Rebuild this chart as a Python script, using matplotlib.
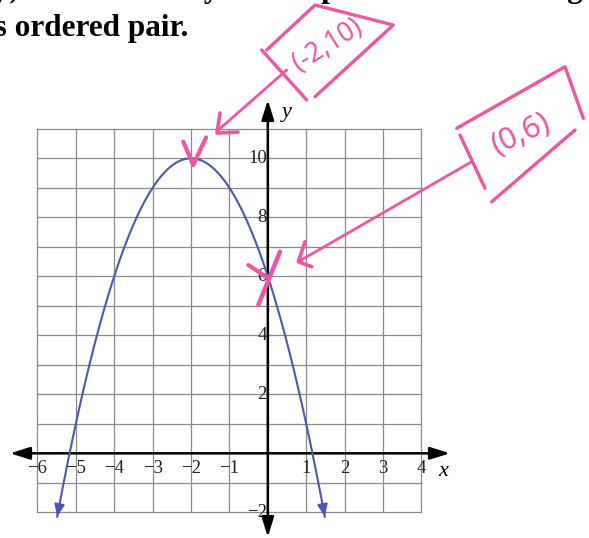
import numpy as np
import matplotlib.pyplot as plt

plt.rcParams["font.family"] = ["Liberation Serif", "DejaVu Serif"]

########################################################################################
# Données du graphique

x_ticks = [-6, -5, -4, -3, -2, -1, 1, 2, 3, 4]
y_ticks = [-2, 2, 4, 6, 8, 10]
grid_x = np.arange(-6, 5)
grid_y = np.arange(-2, 12)

sommet = (-2, 10)
ordonnee_origine = (0, 6)
label_sommet = "(-2,10)"
label_origine = "(0,6)"

# y = a (x - h)^2 + k, passant par le sommet et l'ordonnée à l'origine
h, k = sommet
a = (ordonnee_origine[1] - k) / (ordonnee_origine[0] - h) ** 2
y_bout = -2.15  # la courbe s'arrête (flèches) juste sous la grille

########################################################################################
# Repère : une image de 589x538 px, 38.4 px par unité en x et 29.5 en y
X0, UX = 267.8, 38.4
Y0, UY = 453.3, 29.5


def pos(px, py):
    return (px - X0) / UX, (Y0 - py) / UY


fig = plt.figure(figsize=(5.89, 5.38), dpi=100)
ax = fig.add_axes([0, 0, 1, 1])
ax.set_xlim(pos(0, 0)[0], pos(589, 0)[0])
ax.set_ylim(pos(0, 538)[1], pos(0, 0)[1])
ax.axis("off")

gris = "#8a8a8a"
bleu = "#4a58b4"
rose = "#f0559f"

# grille
for gx in grid_x:
    ax.plot([gx, gx], [grid_y[0], grid_y[-1]], color=gris, lw=0.9, zorder=1)
for gy in grid_y:
    ax.plot([grid_x[0], grid_x[-1]], [gy, gy], color=gris, lw=0.9, zorder=1)

# axes avec flèches
fleche = dict(arrowstyle="<|-|>,head_length=0.8,head_width=0.25", color="black",
              lw=1.8, mutation_scale=15, shrinkA=0, shrinkB=0)
ax.annotate("", xy=(pos(450, 0)[0], 0), xytext=(pos(10, 0)[0], 0), arrowprops=fleche, zorder=3)
ax.annotate("", xy=(0, pos(0, 100)[1]), xytext=(0, pos(0, 537)[1]), arrowprops=fleche, zorder=3)

for t in x_ticks:
    ax.text(t, -0.5, f"{t}".replace("-", "\u2212"), ha="center", va="center",
            fontsize=13.5, color="#222222", zorder=2)
for t in y_ticks:
    ax.text(pos(267, 0)[0], t, f"{t}".replace("-", "\u2212"), ha="right", va="center",
            fontsize=13.5, color="#222222", zorder=2)

ax.text(*pos(443, 472), "x", style="italic", fontsize=16, ha="center", va="center")
ax.text(*pos(287, 112), "y", style="italic", fontsize=16, ha="center", va="center")

# parabole
x_fin = np.sqrt((y_bout - k) / a)
xs = np.linspace(h - x_fin, h + x_fin, 400)
ys = a * (xs - h) ** 2 + k
ax.plot(xs, ys, color=bleu, lw=1.5, zorder=4)
pointe = dict(arrowstyle="-|>,head_length=0.6,head_width=0.25", color=bleu, lw=1.5,
              mutation_scale=12, shrinkA=0, shrinkB=0)
ax.annotate("", xy=(xs[0], ys[0]), xytext=(xs[3], ys[3]), arrowprops=pointe, zorder=4)
ax.annotate("", xy=(xs[-1], ys[-1]), xytext=(xs[-4], ys[-4]), arrowprops=pointe, zorder=4)

# énoncé (coupé par le bord du haut et de gauche)
ax.text(*pos(188, 36), "as ordered pair.", fontsize=22.5, fontweight="bold",
        ha="right", va="baseline")
ax.text(*pos(-6, -3), "y)   What is the y-intercept when x = 0 and give it",
        fontsize=22.5, fontweight="bold", ha="left", va="baseline")

########################################################################################
# Annotations à la main (décalages en pixels depuis le point annoté)


def trait(point, offsets, lw=2.4):
    ax0, ay0 = X0 + UX * point[0], Y0 - UY * point[1]
    pts = [pos(ax0 + dx, ay0 + dy) for dx, dy in offsets]
    ax.plot([p[0] for p in pts], [p[1] for p in pts], color=rose, lw=lw,
            solid_capstyle="round", solid_joinstyle="round", zorder=6)


def ecrit(point, dx, dy, texte, rot, taille):
    ax0, ay0 = X0 + UX * point[0], Y0 - UY * point[1]
    ax.text(*pos(ax0 + dx, ay0 + dy), texte, rotation=rot, rotation_mode="anchor",
            ha="center", va="center", fontsize=taille, color=rose,
            family=["Noto Sans", "DejaVu Sans"], fontweight="bold", zorder=6)


# sommet
trait(sommet, [(-7.7, -16.6), (2.3, 6.7), (15, -20.8)], lw=3)
trait(sommet, [(95.7, -88.3), (27.3, -28.3)], lw=2)
trait(sommet, [(29, -45.3), (26, -25.3), (47, -26.3)], lw=2.6)
trait(sommet, [(70.7, -108.3), (115.7, -58.3)])
trait(sommet, [(75.7, -108.3), (124, -153.3), (202.3, -133.3), (124, -61.6)])
ecrit(sommet, 137, -113, label_sommet, 32, 19)

# ordonnée à l'origine
trait(ordonnee_origine, [(-19.5, -11.3), (-0.8, 1.2)], lw=3)
trait(ordonnee_origine, [(12.2, -24.6), (-9.5, 28.7)], lw=3.2)
trait(ordonnee_origine, [(203.9, -114.6), (30.5, -14.6)], lw=2)
trait(ordonnee_origine, [(37.2, -34.6), (30.5, -14.6), (43.9, -9.6)], lw=2.6)
trait(ordonnee_origine, [(188.9, -148), (297.2, -209.6), (315.5, -158)])
trait(ordonnee_origine, [(192.2, -141.3), (217.2, -88)])
trait(ordonnee_origine, [(223.9, -74.6), (307.2, -146.3)])
ecrit(ordonnee_origine, 253, -142, label_origine, 25, 22)

fig.savefig("out.png", dpi=100)
